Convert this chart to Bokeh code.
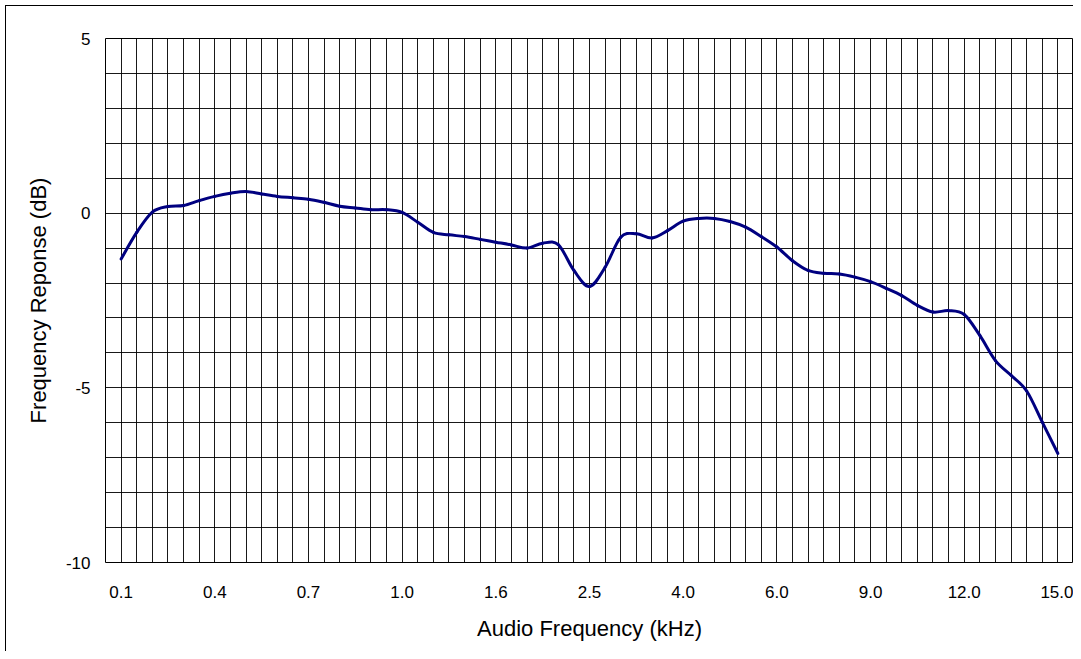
from bokeh.plotting import figure
from bokeh.models import FixedTicker, Range1d, ColumnDataSource
from bokeh.embed import file_html
from bokeh.resources import INLINE

# ---- data ----
categories = [
    "0.1", "0.15", "0.2", "0.25", "0.3", "0.35",
    "0.4", "0.45", "0.5", "0.55", "0.6", "0.65",
    "0.7", "0.75", "0.8", "0.85", "0.9", "0.95",
    "1.0", "1.1", "1.2", "1.3", "1.4", "1.5",
    "1.6", "1.75", "1.9", "2.05", "2.2", "2.35",
    "2.5", "2.75", "3.0", "3.25", "3.5", "3.75",
    "4.0", "4.33", "4.67", "5.0", "5.33", "5.67",
    "6.0", "6.5", "7.0", "7.5", "8.0", "8.5",
    "9.0", "9.5", "10.0", "10.5", "11.0", "11.5",
    "12.0", "12.5", "13.0", "13.5", "14.0", "14.5",
    "15.0",
]
response_db = [
    -1.31, -0.55, 0.03, 0.19, 0.22, 0.36,
    0.48, 0.57, 0.62, 0.55, 0.48, 0.44,
    0.40, 0.31, 0.20, 0.15, 0.10, 0.10,
    0.02, -0.26, -0.55, -0.62, -0.67, -0.75,
    -0.83, -0.91, -1.00, -0.86, -0.90, -1.64,
    -2.10, -1.55, -0.69, -0.59, -0.71, -0.50,
    -0.23, -0.15, -0.15, -0.24, -0.40, -0.67,
    -0.97, -1.36, -1.64, -1.72, -1.74, -1.83,
    -1.96, -2.15, -2.36, -2.64, -2.83, -2.79,
    -2.90, -3.50, -4.22, -4.64, -5.09, -5.98,
    -6.88,
]
tick_labels = ["0.1", "0.4", "0.7", "1.0", "1.6", "2.5", "4.0", "6.0", "9.0", "12.0", "15.0"]
y_tick_values = [-10, -5, 0, 5]
y_tick_labels = ["-10", "-5", "0", "5"]
y_grid_values = list(range(-10, 6))

FONT = "Liberation Sans"

n = len(categories)
x_index = list(range(n))
tick_pos = [categories.index(t) for t in tick_labels]

# smoothed line (Excel-style smoothing: cubic Bezier through every data point)
def _pt(i):
    i = max(0, min(n - 1, i))
    return x_index[i], response_db[i]

seg = dict(x0=[], y0=[], x1=[], y1=[], cx0=[], cy0=[], cx1=[], cy1=[])
for i in range(n - 1):
    xa, ya = _pt(i - 1)
    xb, yb = _pt(i)
    xc, yc = _pt(i + 1)
    xd, yd = _pt(i + 2)
    seg["x0"].append(xb); seg["y0"].append(yb)
    seg["x1"].append(xc); seg["y1"].append(yc)
    seg["cx0"].append(xb + (xc - xa) / 6.0); seg["cy0"].append(yb + (yc - ya) / 6.0)
    seg["cx1"].append(xc - (xd - xb) / 6.0); seg["cy1"].append(yc - (yd - yb) / 6.0)
seg_source = ColumnDataSource(data=seg)

p = figure(
    width=1073, height=651,
    output_backend="svg", toolbar_location=None,
    x_range=Range1d(-1, n),
    y_range=Range1d(min(y_tick_values), max(y_tick_values)),
    min_border_left=105, min_border_right=0, min_border_top=38, min_border_bottom=89,
    background_fill_color="white",
)
# transparent outer area so the chart-area border drawn by CSS shows through
p.border_fill_color = None
p.styles = {
    "background": (
        "linear-gradient(#000, #000) 5px 5px / 1px calc(100% - 5px) no-repeat, "
        "linear-gradient(#000, #000) 5px 5px / calc(100% - 5px) 1px no-repeat, #ffffff"
    )
}
p.outline_line_color = "black"
p.outline_line_width = 1

# grids
p.xgrid.ticker = FixedTicker(ticks=x_index)
p.ygrid.ticker = FixedTicker(ticks=y_grid_values)
for g in (p.xgrid, p.ygrid):
    g.grid_line_color = "black"
    g.grid_line_alpha = 0.9
    g.grid_line_width = 1

# axes
p.xaxis.ticker = FixedTicker(ticks=tick_pos)
p.xaxis.major_label_overrides = {pos: lab for pos, lab in zip(tick_pos, tick_labels)}
p.yaxis.ticker = FixedTicker(ticks=y_tick_values)
p.yaxis.major_label_overrides = {v: lab for v, lab in zip(y_tick_values, y_tick_labels)}
for ax in (p.xaxis[0], p.yaxis[0]):
    ax.axis_line_color = None
    ax.major_tick_line_color = None
    ax.minor_tick_line_color = None
    ax.major_tick_out = 0
    ax.major_tick_in = 0
    ax.minor_tick_out = 0
    ax.major_label_text_font = FONT
    ax.major_label_text_font_size = "17px"
    ax.major_label_text_color = "black"
    ax.axis_label_text_font = FONT
    ax.axis_label_text_font_size = "22px"
    ax.axis_label_text_font_style = "normal"
    ax.axis_label_text_color = "black"
p.xaxis.major_label_standoff = 23
p.yaxis.major_label_standoff = 15
p.xaxis.axis_label = "Audio Frequency (kHz)"
p.yaxis.axis_label = "Frequency Reponse (dB)"
p.xaxis.axis_label_standoff = 15
p.yaxis.axis_label_standoff = 12

p.bezier(x0="x0", y0="y0", x1="x1", y1="y1", cx0="cx0", cy0="cy0", cx1="cx1", cy1="cy1",
         source=seg_source, line_color="#000080", line_width=3, line_cap="round")

open("out.html", "w").write(file_html(p, INLINE))
